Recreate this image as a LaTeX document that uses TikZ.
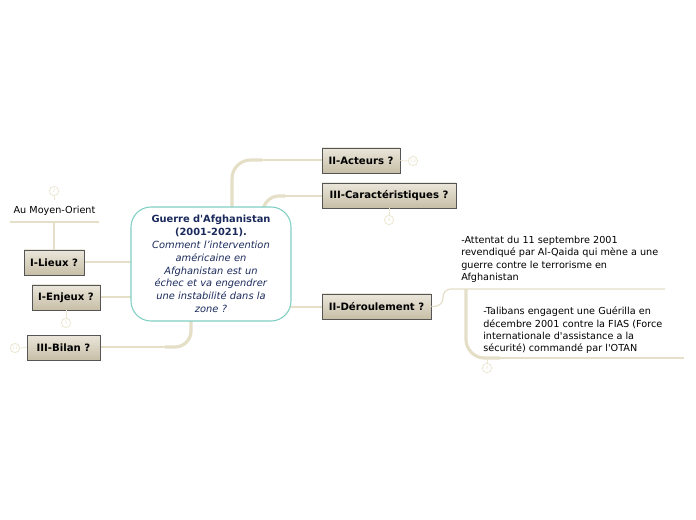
\documentclass[tikz,border=0pt]{standalone}
\usepackage{fontspec}
\setmainfont{DejaVu Sans}
\newcommand\aq{\textquotesingle}
\definecolor{conn}{HTML}{E6DFC8}
\definecolor{circ}{HTML}{EDE7D2}
\definecolor{boxtop}{HTML}{EAE6DA}
\definecolor{boxbot}{HTML}{C7BEA6}
\definecolor{boxline}{HTML}{555555}
\definecolor{navy}{HTML}{1B2A5C}
\definecolor{teal}{HTML}{7FCFC2}
\begin{document}
\begin{tikzpicture}[x=0.75pt,y=-0.75pt,
  topic/.style={draw=boxline,line width=0.6pt,top color=boxtop,bottom color=boxbot,
    font=\fontsize{7.6}{9}\selectfont\bfseries,inner sep=0pt,minimum height=18.75pt},
  conn/.style={draw=conn,line width=0.9pt},
  thick conn/.style={draw=conn,line width=2.4pt},
  badge/.style={circle,draw=circ,line width=0.6pt,minimum size=7pt,inner sep=0pt,
    font=\fontsize{3.5}{4}\selectfont,text=circ},
  plain/.style={font=\fontsize{7.25}{9.2}\selectfont,align=left,inner sep=0pt,anchor=north west}]
\useasboundingbox (0,0) rectangle (696,520);
\fill[white] (0,0) rectangle (696,520);

% connectors from center
\draw[thick conn,rounded corners=14] (232,212) -- (232,160) -- (262,160);
\draw[conn] (255,160) -- (322,160);
\draw[thick conn,rounded corners=12] (263,212) -- (263,196) -- (285,196);
\draw[conn] (280,196) -- (322,196);
\draw[thick conn,rounded corners=12] (191,316) -- (191,347) -- (165,347);
\draw[conn] (170,347) -- (100,347);
\draw[conn] (135,262) -- (84,262);
\draw[conn] (135,297) -- (100,297);
\draw[conn] (288,307) -- (322,307);

% central node
\node[draw=teal,line width=0.8pt,fill=white,rounded corners=15pt,
  minimum width=120pt,minimum height=85.5pt,text width=104pt,align=center,
  inner sep=0pt,text=navy,font=\fontsize{7.4}{9.6}\selectfont] (c) at (211,264)
  {\textbf{Guerre d\aq Afghanistan}\\\textbf{(2001-2021).}\\\textit{Comment l’intervention}\\\textit{américaine en}\\\textit{Afghanistan est un}\\\textit{échec et va engendrer}\\\textit{une instabilité dans la}\\\textit{zone ?}};

% topic boxes
\node[topic,minimum width=58.5pt] (act) at (361,160.5) {II-Acteurs ?};
\node[topic,minimum width=100.5pt] (car) at (389,195.5) {III-Caractéristiques ?};
\node[topic,minimum width=81.75pt] (der) at (376.5,306.5) {II-Déroulement ?};
\node[topic,minimum width=45pt] (lie) at (54,262.5) {I-Lieux ?};
\node[topic,minimum width=51pt] (enj) at (66,297.5) {I-Enjeux ?};
\node[topic,minimum width=54.75pt] (bil) at (63.5,347.5) {III-Bilan ?};

% Au Moyen-Orient
\node[plain,anchor=center] (amo) at (54.5,211) {Au Moyen-Orient};
\coordinate (amoL) at (10,222);
\coordinate (amoR) at (99,222);
\draw[conn,line width=1.6pt] (amoL) -- (amoR);
\draw[conn] (lie.north) -- (54,222);
\node[badge] (b2) at (54,191) {2};
\draw[draw=circ,line width=0.6pt] (b2.south) -- (54,200);

% badges
\node[badge] (b3) at (66,323) {3};
\draw[draw=circ,line width=0.6pt] (enj.south) -- (b3.north);
\node[badge] (b11) at (15,348) {11};
\draw[draw=circ,line width=0.6pt] (b11.east) -- (bil.west);
\node[badge] (b13) at (413,161) {13};
\draw[draw=circ,line width=0.6pt] (act.east) -- (b13.west);
\node[badge] (b4a) at (389,220) {4};
\draw[draw=circ,line width=0.6pt] (car.south) -- (b4a.north);

% Deroulement children
\draw[conn,rounded corners=6] (der.east) -- (443,306) -- (443,289) -- (665,289);
\node[plain] (t1) at (461,236) {-Attentat du 11 septembre 2001\\revendiqué par Al-Qaida qui mène a une\\guerre contre le terrorisme en\\Afghanistan};
\draw[thick conn,rounded corners=14] (466,289) -- (466,358) -- (500,358);
\draw[conn] (495,358) -- (684,358);
\node[plain] (t2) at (483,307) {-Talibans engagent une Guérilla en\\décembre 2001 contre la FIAS (Force\\internationale d\aq assistance a la\\sécurité) commandé par l\aq OTAN};
\node[badge] (b4b) at (487,368) {4};
\draw[draw=circ,line width=0.6pt] (487,360) -- (b4b.north);
\end{tikzpicture}
\end{document}
